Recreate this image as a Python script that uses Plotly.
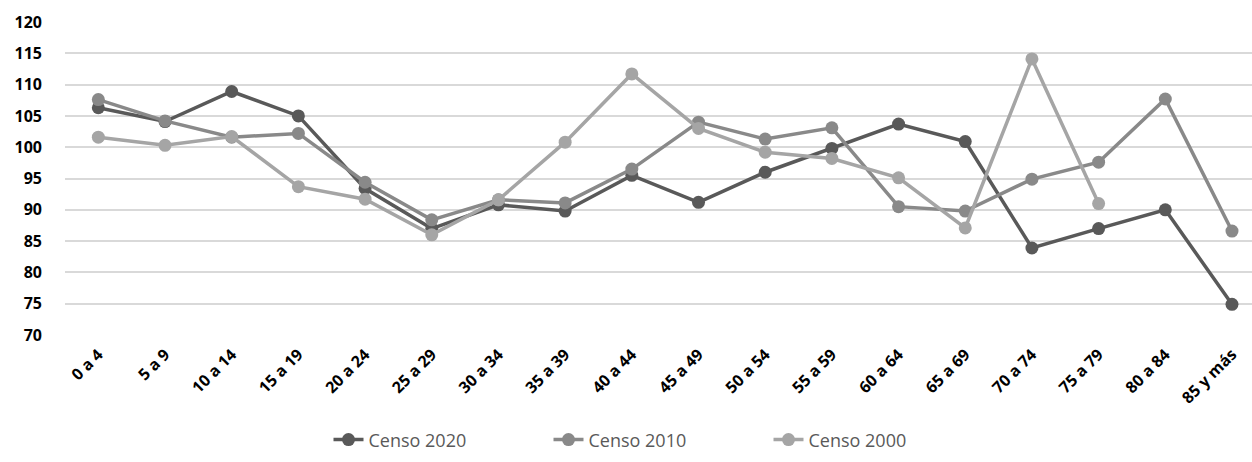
import plotly.graph_objects as go

# Age groups on the category axis
grupos = ["0 a 4", "5 a 9", "10 a 14", "15 a 19", "20 a 24", "25 a 29", "30 a 34",
          "35 a 39", "40 a 44", "45 a 49", "50 a 54", "55 a 59", "60 a 64",
          "65 a 69", "70 a 74", "75 a 79", "80 a 84", "85 y más"]

# Index values per census
censo_2020 = [106.3, 104.1, 108.9, 105.0, 93.4, 87.0, 90.8, 89.8, 95.5, 91.2,
              96.0, 99.8, 103.7, 100.9, 83.9, 87.0, 90.0, 74.9]
censo_2010 = [107.6, 104.2, 101.6, 102.2, 94.4, 88.4, 91.6, 91.1, 96.5, 104.0,
              101.3, 103.1, 90.5, 89.8, 94.9, 97.6, 107.7, 86.6]
censo_2000 = [101.6, 100.3, 101.7, 93.7, 91.7, 86.0, 91.6, 100.8, 111.7, 103.0,
              99.2, 98.2, 95.1, 87.1, 114.1, 91.0, None, None]

y_ticks = [70, 75, 80, 85, 90, 95, 100, 105, 110, 115, 120]

series = [
    ("Censo 2020", censo_2020, "#595959"),
    ("Censo 2010", censo_2010, "#898989"),
    ("Censo 2000", censo_2000, "#a5a5a5"),
]

fig = go.Figure()
for name, values, color in series:
    fig.add_trace(go.Scatter(
        x=grupos, y=values, name=name, mode="lines+markers",
        line=dict(color=color, width=3.5),
        marker=dict(color=color, size=13),
        connectgaps=False,
    ))

fig.update_layout(
    width=1252, height=462,
    margin=dict(l=65, r=0, t=22, b=127),
    paper_bgcolor="white", plot_bgcolor="white",
    font=dict(family="Open Sans", color="#000000"),
    showlegend=True,
    legend=dict(
        orientation="h", x=0.5, xanchor="center", y=-0.335, yanchor="middle",
        font=dict(family="Open Sans", size=18, color="#595959"),
        itemwidth=30, tracegroupgap=0,
        entrywidth=175, entrywidthmode="pixels",
    ),
    xaxis=dict(
        type="category", range=[-0.5, 17.3],
        tickangle=-45, showgrid=False, zeroline=False, showline=False,
        tickfont=dict(family="Open Sans", size=16, weight="bold", color="#000000"),
        ticks="", ticklabelstandoff=6,
    ),
    yaxis=dict(
        range=[70, 120], tickvals=y_ticks,
        showgrid=True, gridcolor="#d9d9d9", gridwidth=1.5,
        zeroline=False, showline=False, ticks="",
        tickfont=dict(family="Open Sans", size=16, weight="bold", color="#000000"),
        ticklabelstandoff=22,
    ),
)

fig.write_html("out.html")
